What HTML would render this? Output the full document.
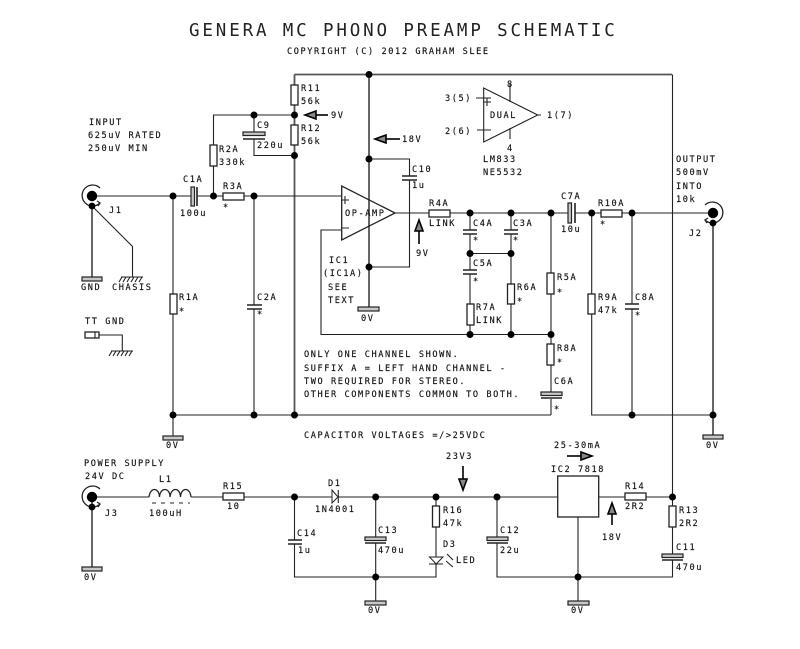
<!DOCTYPE html>
<html><head><meta charset="utf-8"><style>
html,body{margin:0;padding:0;background:#fff}
svg{display:block;filter:blur(.35px)}
text{font-family:"DejaVu Sans Mono","Liberation Mono",monospace;font-size:8.6px;letter-spacing:1.58px;fill:#111;stroke:#111;stroke-width:.15px}
.t{font-size:17.500px;letter-spacing:2.86px;stroke:none;fill:#222;font-weight:normal}
.w{fill:none;stroke:#222;stroke-width:1.1}
.g{fill:none;stroke:#555;stroke-width:1.8}
.b{fill:#fff;stroke:#222;stroke-width:1.3}
.p{fill:#c8c8c8;stroke:#222;stroke-width:1.2}
.k{fill:#000;stroke:none}
</style></head><body>
<svg width="800" height="649" viewBox="0 0 800 649" xmlns="http://www.w3.org/2000/svg">
<rect width="800" height="649" fill="#fff"/>
<!-- heavy wires -->
<path class="g" d="M294.5 74.5H672M369 74.5V308M294.5 74.5V415M92 206V277M713 223V435M92 497V567"/>
<path class="w" d="M672.5 74.5V496.5"/>
<!-- input -->
<path class="w" d="M92 196H190.5M197 196H341M173 196V436M254 196V305M254 309V415M173 415H551M213.5 196V115H294.5M254 115V132M254 139V155.5H294.5M92 206L132.5 246.5V277"/>
<!-- opamp wiring -->
<path class="w" d="M369 159H409.500V176M409.500 180V267H369M341 230H321V334.500H551M395 213H568M575 213H713M470 213V230M470 234V270M470 274V334.500M470 253.500H511M511 213V230M511 234V334.500M551 213V392M551 399V415M591.700 213V415H713M632 213V304M632 309V415"/>
<!-- power -->
<path class="w" d="M92 497H149M191 497H332M338 497H557.700M598.700 497H672.500V554M672.500 560V577H497V543M497 537V497M294.500 497V540M294.500 544V577H436V497M375.700 497V537M375.700 543V601M578 517V601"/>
<!-- tt gnd -->
<path class="w" d="M99 335H122.300V351"/>
<rect class="b" x="85" y="332" width="14" height="6"/><path class="w" d="M95 332V338"/>
<!-- ground plates -->
<g class="p">
<rect x="82" y="277" width="20" height="4"/><rect x="163" y="436" width="20" height="4"/><rect x="358" y="307" width="21" height="4"/><rect x="703" y="435" width="20" height="4"/><rect x="82" y="567" width="20" height="4"/><rect x="365" y="601" width="21" height="4"/><rect x="568" y="601" width="21" height="4"/>
</g>
<!-- chassis -->
<path class="w" stroke-width="1.4" d="M121 277H143M122 277L119 282M126 277L123 282M130 277L127 282M134 277L131 282M138 277L135 282M142 277L139 282M111 351H133M112 351L109 356M116 351L113 356M120 351L117 356M124 351L121 356M128 351L125 356M132 351L129 356"/>
<!-- resistors -->
<g class="b">
<rect x="291" y="85" width="7" height="20"/><rect x="291" y="125" width="7" height="20"/><rect x="210" y="145" width="7" height="21"/><rect x="223" y="193" width="21" height="7"/><rect x="170" y="294" width="7" height="20"/>
<rect x="429" y="210" width="21" height="7"/><rect x="601" y="210" width="21" height="7"/><rect x="547" y="273" width="7" height="21"/><rect x="547" y="344" width="7" height="21"/><rect x="588" y="294" width="7" height="20"/><rect x="467" y="304" width="7" height="21"/><rect x="507.500" y="284" width="7" height="20"/>
<rect x="223" y="493" width="21" height="7"/><rect x="625" y="493" width="21" height="7"/><rect x="669" y="506" width="7" height="21"/><rect x="432.500" y="506" width="7" height="21"/>
<rect x="557.700" y="476" width="41" height="41"/>
</g>
<!-- polarised caps -->
<g class="p">
<rect x="243" y="132" width="22" height="3.500"/><rect x="191" y="187" width="3.500" height="19"/><rect x="568" y="203" width="3.500" height="20"/><rect x="541" y="392" width="21" height="3.500"/><rect x="365" y="537" width="21" height="3.500"/><rect x="487" y="537" width="21" height="3.500"/><rect x="662" y="554" width="21" height="3.500"/>
</g>
<path class="w" style="stroke-width:1.6" d="M243 139H265M197 187V206M575 203V223M541 398H562M365 543H386M487 543H508M662 560H683M247 305H262M247 309H262M402 176H417M402 180H417M463 230H477M463 234H477M504 230H518M504 234H518M463 270H477M463 274H477M625 304H639M625 309H639M288 540H302M288 544H302"/>
<!-- op amps -->
<path d="M341.700 186V240L395 213Z" fill="none" stroke="#222" stroke-width="1.3"/>
<path class="w" d="M341 200H349M345 196V204M341 228H349"/>
<path class="w" d="M483.700 88V142L537.700 115ZM476 98H491M487 98V106M477 130H491M510 84V102M510 128V139M538 115H541M483 102H491"/>
<!-- inductor -->
<path class="w" style="stroke-width:1.3" d="M149 497C150 487 159 487 159.500 497C160 487 170 487 170 497C171 487 180 487 180.500 497C181 487 190 487 191 497"/>
<path class="w" stroke-dasharray="4 5" d="M152 503H190"/>
<!-- diode -->
<path class="b" d="M332 490V503L338 497Z" style="stroke-width:1"/><path class="w" d="M338.300 490V503"/>
<!-- LED -->
<path class="b" d="M429.500 557H443L436.200 564Z" style="stroke-width:1"/><path class="w" d="M429 564H443M447 554L453 560M446 561L453 567"/>
<!-- jacks -->
<path class="w" style="stroke-width:1.3" d="M100 188A10.500 10.500 0 1 0 100 203L97 201M100 203L98 206"/>
<path class="w" style="stroke-width:1.3" d="M100 489A10.500 10.500 0 1 0 100 504L97 502M100 504L98 507"/>
<path class="w" style="stroke-width:1.3" d="M705 205A10.500 10.500 0 1 1 705 220L708 218M705 220L707 223"/>
<!-- nodes -->
<g class="k">
<circle cx="92" cy="196" r="5.200"/><circle cx="92" cy="206" r="3.400"/><circle cx="92" cy="497" r="5.200"/><circle cx="92" cy="507" r="3.400"/><circle cx="713" cy="213" r="5.200"/><circle cx="713" cy="223" r="3.400"/>
<circle cx="369" cy="74.500" r="3.500"/><circle cx="294.500" cy="115" r="3.500"/><circle cx="254" cy="115" r="3.500"/><circle cx="294.500" cy="155.500" r="3.500"/><circle cx="173" cy="196" r="3.500"/><circle cx="213.500" cy="196" r="3.500"/><circle cx="254" cy="196" r="3.500"/><circle cx="369" cy="159" r="3.500"/><circle cx="369" cy="267" r="3.500"/>
<circle cx="470" cy="213" r="3.500"/><circle cx="511" cy="213" r="3.500"/><circle cx="551" cy="213" r="3.500"/><circle cx="591.700" cy="213" r="3.500"/><circle cx="632" cy="213" r="3.500"/><circle cx="470" cy="253.500" r="3.500"/><circle cx="511" cy="253.500" r="3.500"/><circle cx="470" cy="334.500" r="3.500"/><circle cx="511" cy="334.500" r="3.500"/><circle cx="551" cy="334.500" r="3.500"/>
<circle cx="173" cy="415" r="3.500"/><circle cx="254" cy="415" r="3.500"/><circle cx="294.500" cy="415" r="3.500"/><circle cx="632" cy="415" r="3.500"/><circle cx="713" cy="415" r="3.500"/>
<circle cx="294.500" cy="497" r="3.500"/><circle cx="375.700" cy="497" r="3.500"/><circle cx="436" cy="497" r="3.500"/><circle cx="497" cy="497" r="3.500"/><circle cx="672.500" cy="497" r="3.500"/><circle cx="375.700" cy="577" r="3.500"/><circle cx="578" cy="577" r="3.500"/>
</g>
<!-- arrows -->
<g fill="#888" stroke="#000" stroke-width="1.600">
<path d="M328 115H316"/><path d="M305 115L316 111V119Z"/>
<path d="M400 139H386"/><path d="M375 139L386 135V143Z"/>
<path d="M419 244V231"/><path d="M419 220L415 231H423Z"/>
<path d="M463 466V479"/><path d="M463 490L459 479H467Z"/>
<path d="M567 456H581"/><path d="M592 456L581 452V460Z"/>
<path d="M612 525V514"/><path d="M612 503L608 514H616Z"/>
</g>
<!-- text -->
<text class="t" x="189" y="36">GENERA MC PHONO PREAMP SCHEMATIC</text>
<text x="287" y="54">COPYRIGHT (C) 2012 GRAHAM SLEE</text>
<text x="89" y="125">INPUT</text><text x="88" y="138">625uV RATED</text><text x="88" y="151">250uV MIN</text>
<text x="301" y="91">R11</text><text x="301" y="104">56k</text><text x="331" y="118">9V</text><text x="301" y="131">R12</text><text x="301" y="144">56k</text>
<text x="257" y="128">C9</text><text x="257" y="148">220u</text><text x="219" y="152">R2A</text><text x="219" y="165">330k</text>
<text x="183" y="182">C1A</text><text x="180" y="216">100u</text><text x="223" y="189">R3A</text><text x="223" y="210">*</text><text x="109" y="213">J1</text>
<text x="81" y="290">GND</text><text x="112" y="290">CHASIS</text><text x="85" y="324">TT GND</text>
<text x="179" y="300">R1A</text><text x="179" y="314">*</text><text x="257" y="300">C2A</text><text x="257" y="317">*</text>
<text x="345" y="216">OP-AMP</text><text x="329" y="263">IC1</text><text x="323" y="276">(IC1A)</text><text x="328" y="290">SEE</text><text x="328" y="303">TEXT</text>
<text x="445" y="101">3(5)</text><text x="445" y="134">2(6)</text><text x="507" y="87">8</text><text x="490" y="118">DUAL</text><text x="547" y="118">1(7)</text><text x="507" y="151">4</text><text x="483" y="162">LM833</text><text x="483" y="175">NE5532</text>
<text x="402" y="142">18V</text><text x="412" y="172">C10</text><text x="412" y="188">1u</text><text x="429" y="206">R4A</text><text x="429" y="226">LINK</text><text x="416" y="256">9V</text>
<text x="473" y="226">C4A</text><text x="473" y="243">*</text><text x="513" y="226">C3A</text><text x="513" y="243">*</text><text x="473" y="266">C5A</text><text x="473" y="284">*</text><text x="517" y="290">R6A</text><text x="517" y="304">*</text><text x="476" y="310">R7A</text><text x="476" y="323">LINK</text>
<text x="676" y="162">OUTPUT</text><text x="676" y="175">500mV</text><text x="676" y="189">INTO</text><text x="676" y="202">10k</text>
<text x="561" y="199">C7A</text><text x="561" y="232">10u</text><text x="598" y="206">R10A</text><text x="600" y="227">*</text><text x="689" y="236">J2</text>
<text x="557" y="280">R5A</text><text x="557" y="295">*</text><text x="557" y="351">R8A</text><text x="557" y="365">*</text><text x="554" y="384">C6A</text><text x="554" y="412">*</text>
<text x="598" y="300">R9A</text><text x="598" y="313">47k</text><text x="635" y="300">C8A</text><text x="635" y="318">*</text>
<text x="304" y="357">ONLY ONE CHANNEL SHOWN.</text><text x="304" y="371">SUFFIX A = LEFT HAND CHANNEL -</text><text x="304" y="384">TWO REQUIRED FOR STEREO.</text><text x="304" y="397">OTHER COMPONENTS COMMON TO BOTH.</text><text x="304" y="438">CAPACITOR VOLTAGES =/&gt;25VDC</text>
<text x="166" y="448">0V</text><text x="361" y="321">0V</text><text x="706" y="448">0V</text>
<text x="84" y="466">POWER SUPPLY</text><text x="85" y="479">24V DC</text><text x="159" y="482">L1</text><text x="149" y="516">100uH</text><text x="223" y="489">R15</text><text x="227" y="509">10</text><text x="328" y="486">D1</text><text x="315" y="512">1N4001</text><text x="105" y="516">J3</text>
<text x="297" y="536">C14</text><text x="298" y="553">1u</text><text x="84" y="580">0V</text><text x="378" y="533">C13</text><text x="378" y="553">470u</text><text x="368" y="613">0V</text>
<text x="446" y="459">23V3</text><text x="554" y="448">25-30mA</text><text x="551" y="472">IC2 7818</text><text x="625" y="489">R14</text><text x="625" y="509">2R2</text><text x="602" y="540">18V</text>
<text x="679" y="513">R13</text><text x="679" y="526">2R2</text><text x="676" y="550">C11</text><text x="676" y="570">470u</text>
<text x="443" y="513">R16</text><text x="443" y="526">47k</text><text x="443" y="547">D3</text><text x="456" y="563">LED</text><text x="500" y="533">C12</text><text x="500" y="553">22u</text><text x="571" y="613">0V</text>
</svg>
</body></html>
